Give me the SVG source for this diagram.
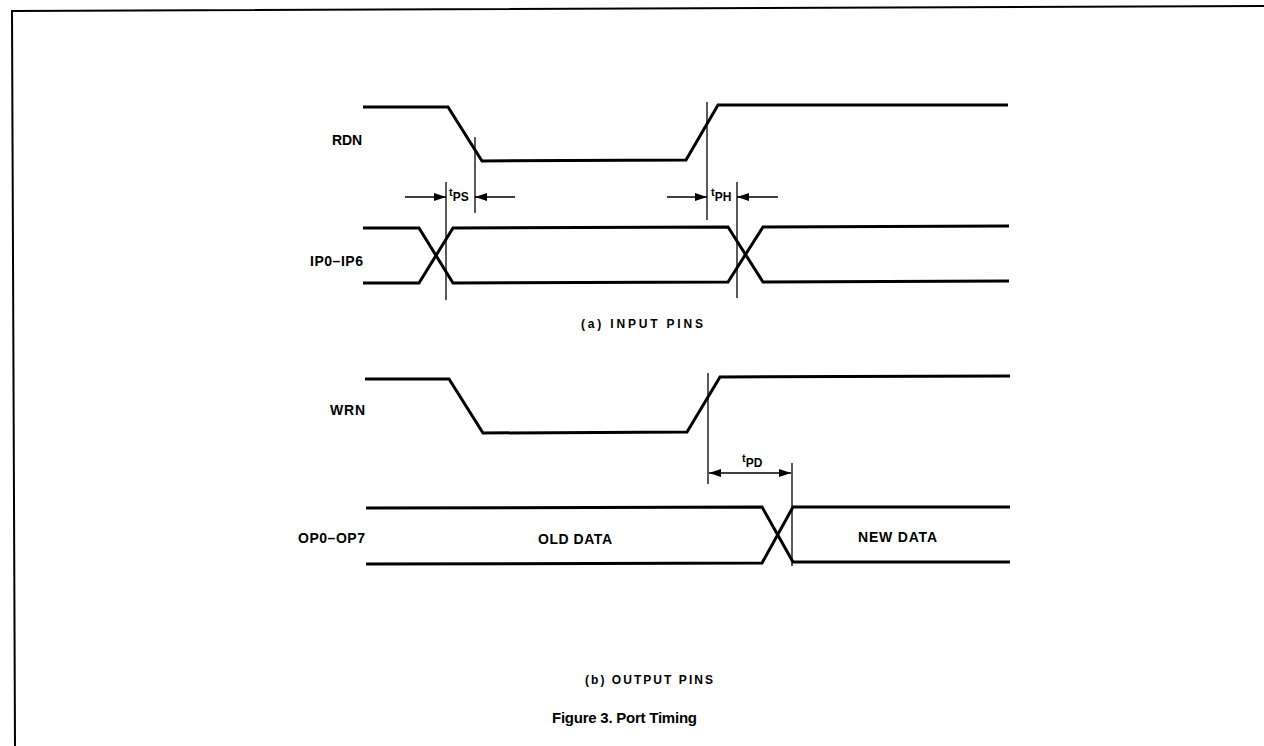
<svg xmlns="http://www.w3.org/2000/svg" width="1264" height="746" viewBox="0 0 1264 746">
<style>
.sig{fill:none;stroke:#000;stroke-width:3;stroke-linejoin:miter}
.ref{fill:none;stroke:#000;stroke-width:1.3}
.dim{fill:none;stroke:#000;stroke-width:1.3}
.lbl{font-family:"Liberation Sans",Arial,sans-serif;font-weight:bold;font-size:14px;fill:#000}
.sm{font-family:"Liberation Sans",Arial,sans-serif;font-weight:bold;font-size:12px;fill:#000}
.t{font-family:"Liberation Sans",Arial,sans-serif;font-weight:bold;font-size:11px;fill:#000}
.cap{font-family:"Liberation Sans",Arial,sans-serif;font-weight:bold;font-size:15px;fill:#000}
</style>
<defs>
<marker id="ah" viewBox="0 0 12 8" refX="12" refY="4" markerWidth="12" markerHeight="8" markerUnits="userSpaceOnUse" orient="auto-start-reverse">
<path d="M0,0 L12,4 L0,8 Z" fill="#000"/>
</marker>
</defs>
<rect width="1264" height="746" fill="#fff"/>
<polyline points="15,746 12,11 1264,6" fill="none" stroke="#000" stroke-width="2"/>

<g id="rdn">
<text class="lbl" x="332" y="145" textLength="30">RDN</text>
<polyline class="sig" points="363,107 448,107 482,161 686,160 718,105 1008,105"/>
</g>

<g id="ip">
<text class="lbl" x="310" y="266" textLength="53">IP0–IP6</text>
<polyline class="sig" points="363,228 419,228 453,283 728,282 763,227 1009,226"/>
<polyline class="sig" points="363,283 419,283 453,228 728,227 763,282 1009,281"/>
</g>

<g id="wrn">
<text class="lbl" x="330" y="415" textLength="35">WRN</text>
<polyline class="sig" points="365,379 449,379 483,433 687,432 720,377 1010,376"/>
</g>

<g id="op">
<text class="lbl" x="298" y="543" textLength="67">OP0–OP7</text>
<polyline class="sig" points="366,508 762,507 793,562 1010,562"/>
<polyline class="sig" points="366,564 762,563 793,507 1010,507"/>
<text class="lbl" x="538" y="544" textLength="74">OLD DATA</text>
<text class="lbl" x="858" y="542" textLength="79">NEW DATA</text>
</g>

<g id="connectors">
<line class="ref" x1="475" y1="137" x2="475" y2="213"/>
<line class="ref" x1="446" y1="182" x2="446" y2="300"/>
<line class="dim" x1="405" y1="197" x2="446" y2="197" marker-end="url(#ah)"/>
<line class="dim" x1="515" y1="197" x2="475" y2="197" marker-end="url(#ah)"/>
<line class="ref" x1="707" y1="102" x2="707" y2="220"/>
<line class="ref" x1="737" y1="182" x2="737" y2="298"/>
<line class="dim" x1="667" y1="197" x2="707" y2="197" marker-end="url(#ah)"/>
<line class="dim" x1="778" y1="197" x2="737" y2="197" marker-end="url(#ah)"/>
<line class="ref" x1="708" y1="373" x2="708" y2="484"/>
<line class="ref" x1="792" y1="463" x2="792" y2="566"/>
<line class="dim" x1="709" y1="473" x2="791" y2="473" marker-start="url(#ah)" marker-end="url(#ah)"/>
</g>

<g id="dim-labels">
<text class="t" x="449" y="196">t<tspan class="sm" dy="5" font-size="13">PS</tspan></text>
<text class="t" x="711" y="196">t<tspan class="sm" dy="5" font-size="13">PH</tspan></text>
<text class="t" x="742" y="462">t<tspan class="sm" dy="5" font-size="13">PD</tspan></text>
</g>

<g id="captions">
<text class="sm" x="581" y="328" textLength="122">(a)  INPUT PINS</text>
<text class="sm" x="585" y="684" textLength="128">(b)  OUTPUT PINS</text>
<text class="cap" x="552" y="723" textLength="145">Figure 3. Port Timing</text>
</g>
</svg>
